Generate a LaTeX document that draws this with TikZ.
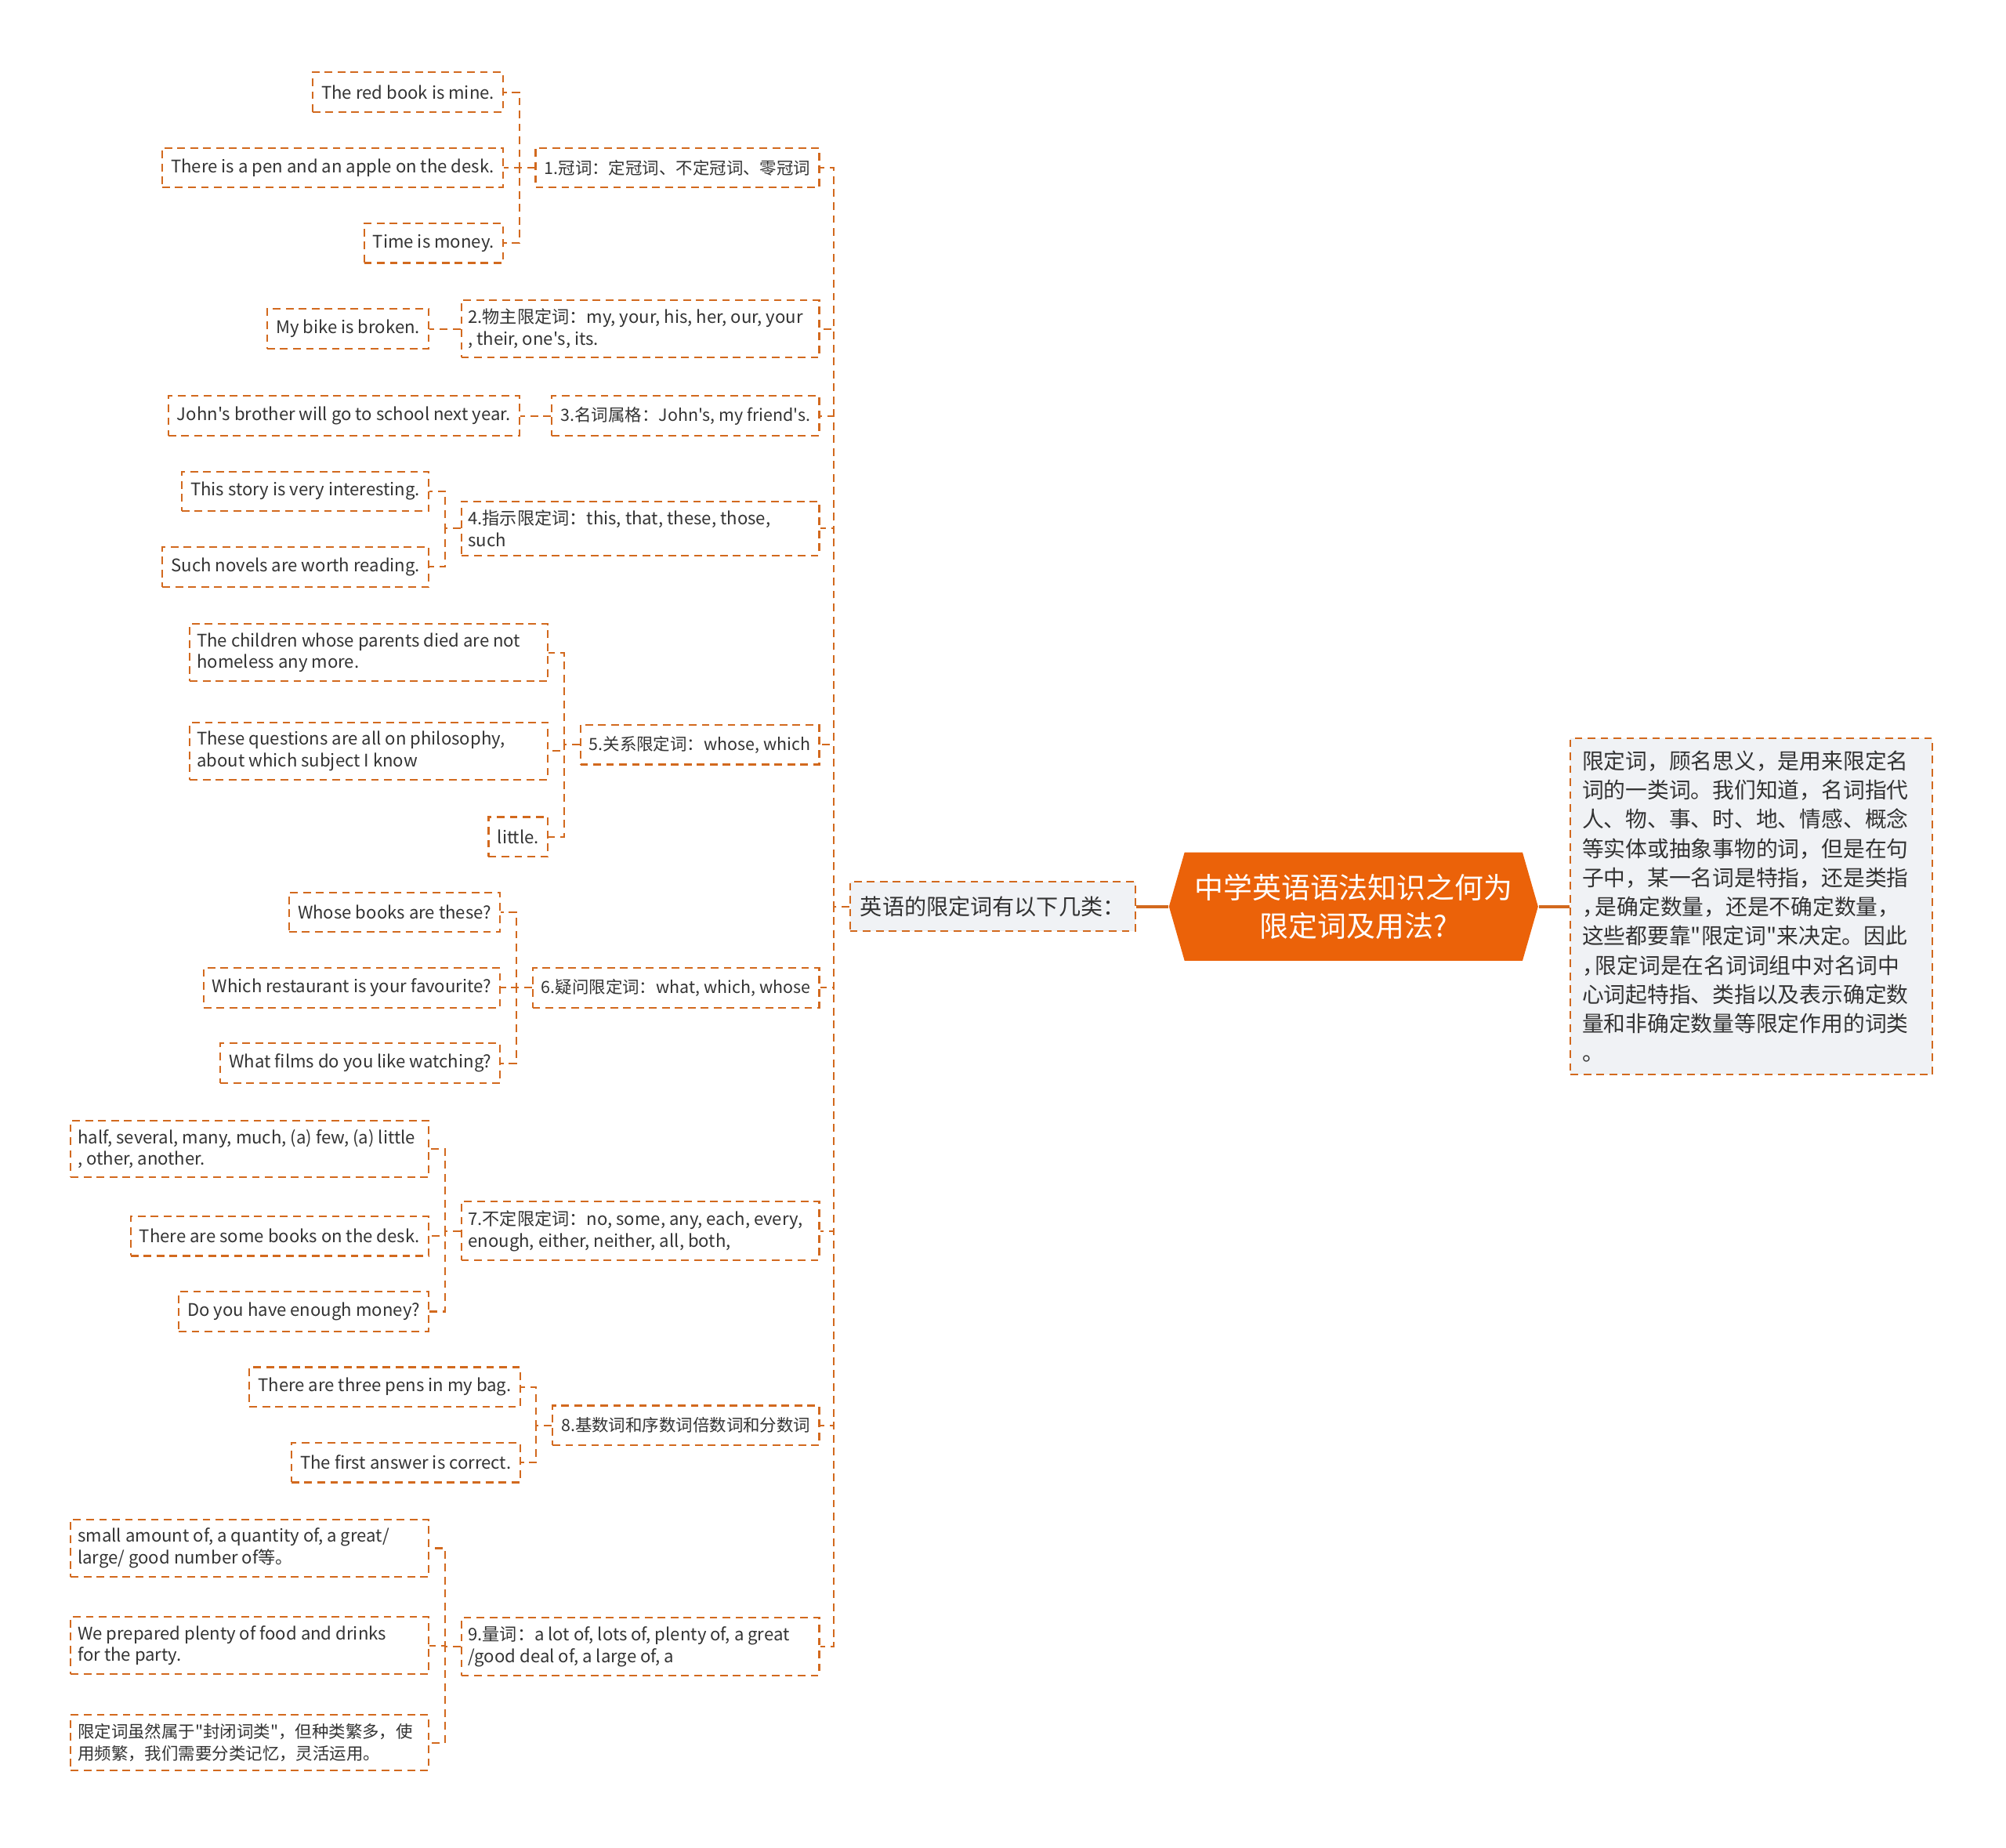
\documentclass[tikz,border=0pt]{standalone}
\usepackage{fontspec}
\setmainfont{Noto Sans CJK SC}[Ligatures=TeXOff]
\usetikzlibrary{calc,positioning,shapes.symbols}
\definecolor{linkor}{HTML}{D2691E}
\definecolor{rootor}{HTML}{EB6209}
\definecolor{paleg}{HTML}{F0F2F5}
\definecolor{txtg}{HTML}{333333}
\newcommand{\hcomma}{\makebox[0.6em][l]{，}}
\tikzset{
  link/.style={draw=linkor, dash pattern=on 2.8pt off 1.9pt, line width=0.6pt},
  box/.style={link, text=txtg, align=left, inner xsep=3.2pt, inner ysep=3.2pt,
    minimum height=14.4pt, font=\fontsize{6.3}{7.9}\selectfont},
  wide/.style={text width=125pt, align=flush left, inner xsep=2.5pt},
  leaf/.style={box, anchor=east},
  wleaf/.style={leaf, wide},
  cat/.style={box, anchor=east, font=\fontsize{6.1}{7.9}\selectfont},
  wcat/.style={box, wide, anchor=east},
}

\begin{document}
\begin{tikzpicture}[x=0.016327cm, y=-0.016327cm]
\useasboundingbox (0,0) rectangle (1568,1444);

% centre and the two sides
\node[signal, signal to=west and east, signal pointer angle=148, fill=rootor, text=white,
  minimum width=134pt, minimum height=39.3pt, inner sep=0pt, align=center,
  font=\fontsize{10.5}{13.9}\selectfont] (root) at (1058,708.5) {中学英语语法知识之何为\\限定词及用法?};
\node[link, fill=paleg, text=txtg, anchor=east, inner xsep=3.8pt, minimum height=18pt,
  font=\fontsize{8}{9}\selectfont] (lvl) at (888,708.5) {英语的限定词有以下几类：};
\node[link, fill=paleg, text=txtg, anchor=west, align=flush left, text width=123pt, inner xsep=4.2pt, inner ysep=4.5pt,
  font=\fontsize{7.9}{10.6}\selectfont] (desc) at (1227,708.5) {限定词，顾名思义，是用来限定名\\词的一类词。我们知道，名词指代\\人、物、事、时、地、情感、概念\\等实体或抽象事物的词，但是在句\\子中，某一名词是特指，还是类指\\\hcomma 是确定数量，还是不确定数量，\\这些都要靠"限定词"来决定。因此\\\hcomma 限定词是在名词词组中对名词中\\心词起特指、类指以及表示确定数\\量和非确定数量等限定作用的词类\\。};
\draw[draw=linkor, line width=1pt] (root.west) -- (lvl.east);
\draw[draw=linkor, line width=1pt] (root.east) -- (desc.west);

% categories
\node[cat] (c1) at (641,131) {1.冠词：定冠词、不定冠词、零冠词};
\node[wcat] (c2) at (641,257) {2.物主限定词：my, your, his, her, our, your\\, their, one's, its.};
\node[cat] (c3) at (641,325) {3.名词属格：John's, my friend's.};
\node[wcat] (c4) at (641,413) {4.指示限定词：this, that, these, those,\\such};
\node[cat] (c5) at (641,582) {5.关系限定词：whose, which};
\node[cat] (c6) at (641,772) {6.疑问限定词：what, which, whose};
\node[wcat] (c7) at (641,962) {7.不定限定词：no, some, any, each, every,\\enough, either, neither, all, both,};
\node[cat] (c8) at (641,1114) {8.基数词和序数词倍数词和分数词};
\node[wcat] (c9) at (641,1287) {9.量词：a lot of, lots of, plenty of, a great\\/good deal of, a large of, a};

\draw[link] (lvl.west) -- ++(-12,0) |- (c1.east);
\draw[link] (lvl.west) -- ++(-12,0) |- (c2.east);
\draw[link] (lvl.west) -- ++(-12,0) |- (c3.east);
\draw[link] (lvl.west) -- ++(-12,0) |- (c4.east);
\draw[link] (lvl.west) -- ++(-12,0) |- (c5.east);
\draw[link] (lvl.west) -- ++(-12,0) |- (c6.east);
\draw[link] (lvl.west) -- ++(-12,0) |- (c7.east);
\draw[link] (lvl.west) -- ++(-12,0) |- (c8.east);
\draw[link] (lvl.west) -- ++(-12,0) |- (c9.east);

% examples
\node[leaf] (l1a) at ($(c1.west)+(-24,-59)$) {The red book is mine.};
\node[leaf] (l1b) at ($(c1.west)+(-24,0)$) {There is a pen and an apple on the desk.};
\node[leaf] (l1c) at ($(c1.west)+(-24,59)$) {Time is money.};
\node[leaf] (l2a) at ($(c2.west)+(-24,0)$) {My bike is broken.};
\node[leaf] (l3a) at ($(c3.west)+(-24,0)$) {John's brother will go to school next year.};
\node[leaf] (l4a) at ($(c4.west)+(-24,-29)$) {This story is very interesting.};
\node[leaf] (l4b) at ($(c4.west)+(-24,30)$) {Such novels are worth reading.};
\node[wleaf] (l5a) at ($(c5.west)+(-24,-72)$) {The children whose parents died are not\\homeless any more.};
\node[wleaf] (l5b) at ($(c5.west)+(-24,5)$) {These questions are all on philosophy,\\about which subject I know};
\node[leaf] (l5c) at ($(c5.west)+(-24,72)$) {little.};
\node[leaf] (l6a) at ($(c6.west)+(-24,-59)$) {Whose books are these?};
\node[leaf] (l6b) at ($(c6.west)+(-24,0)$) {Which restaurant is your favourite?};
\node[leaf] (l6c) at ($(c6.west)+(-24,59)$) {What films do you like watching?};
\node[wleaf] (l7a) at ($(c7.west)+(-24,-64)$) {half, several, many, much, (a) few, (a) little\\, other, another.};
\node[leaf] (l7b) at ($(c7.west)+(-24,4)$) {There are some books on the desk.};
\node[leaf] (l7c) at ($(c7.west)+(-24,63)$) {Do you have enough money?};
\node[leaf] (l8a) at ($(c8.west)+(-24,-30)$) {There are three pens in my bag.};
\node[leaf] (l8b) at ($(c8.west)+(-24,29)$) {The first answer is correct.};
\node[wleaf] (l9a) at ($(c9.west)+(-24,-77)$) {small amount of, a quantity of, a great/\\large/ good number of等。};
\node[wleaf] (l9b) at ($(c9.west)+(-24,-1)$) {We prepared plenty of food and drinks\\for the party.};
\node[wleaf, font=\fontsize{6.1}{7.9}\selectfont] (l9c) at ($(c9.west)+(-24,75)$) {限定词虽然属于"封闭词类"，但种类繁多，使\\用频繁，我们需要分类记忆，灵活运用。};

\draw[link] (c1.west) -- ++(-12,0) |- (l1a.east);
\draw[link] (c1.west) -- ++(-12,0) |- (l1b.east);
\draw[link] (c1.west) -- ++(-12,0) |- (l1c.east);
\draw[link] (c2.west) -- (l2a.east);
\draw[link] (c3.west) -- (l3a.east);
\draw[link] (c4.west) -- ++(-12,0) |- (l4a.east);
\draw[link] (c4.west) -- ++(-12,0) |- (l4b.east);
\draw[link] (c5.west) -- ++(-12,0) |- (l5a.east);
\draw[link] (c5.west) -- ++(-12,0) |- (l5b.east);
\draw[link] (c5.west) -- ++(-12,0) |- (l5c.east);
\draw[link] (c6.west) -- ++(-12,0) |- (l6a.east);
\draw[link] (c6.west) -- ++(-12,0) |- (l6b.east);
\draw[link] (c6.west) -- ++(-12,0) |- (l6c.east);
\draw[link] (c7.west) -- ++(-12,0) |- (l7a.east);
\draw[link] (c7.west) -- ++(-12,0) |- (l7b.east);
\draw[link] (c7.west) -- ++(-12,0) |- (l7c.east);
\draw[link] (c8.west) -- ++(-12,0) |- (l8a.east);
\draw[link] (c8.west) -- ++(-12,0) |- (l8b.east);
\draw[link] (c9.west) -- ++(-12,0) |- (l9a.east);
\draw[link] (c9.west) -- ++(-12,0) |- (l9b.east);
\draw[link] (c9.west) -- ++(-12,0) |- (l9c.east);
\end{tikzpicture}
\end{document}
